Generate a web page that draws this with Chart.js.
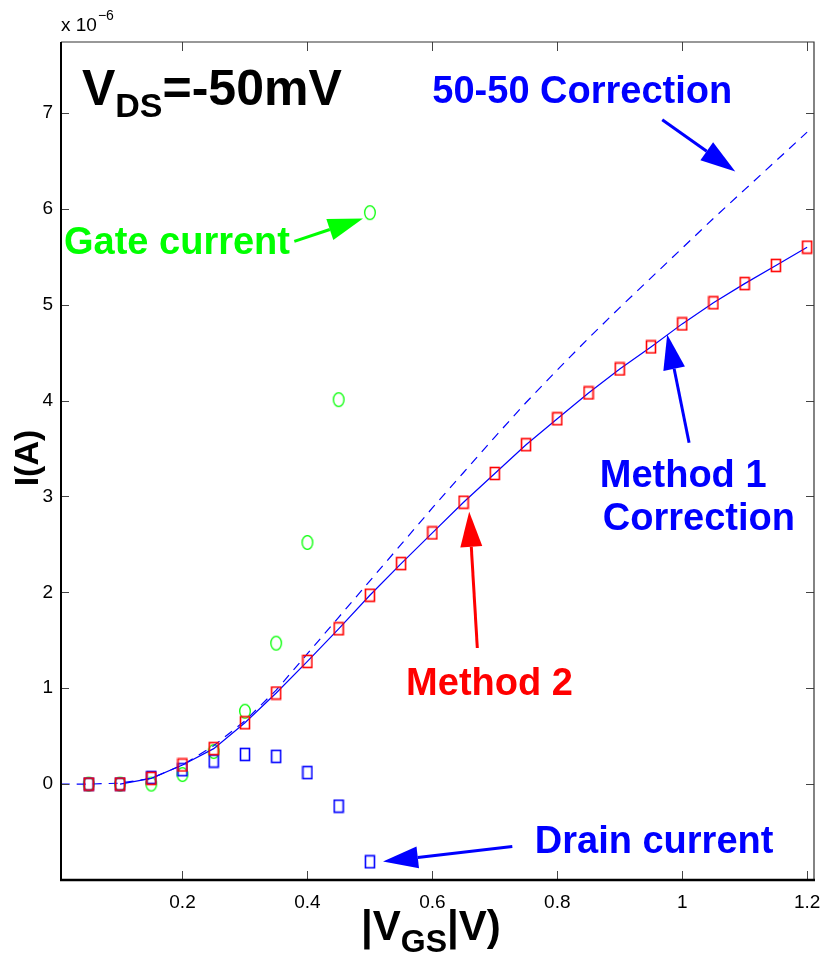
<!DOCTYPE html>
<html>
<head>
<meta charset="utf-8">
<script src="https://cdn.jsdelivr.net/npm/chart.js@4.4.1/dist/chart.umd.min.js"></script>
<style>
  html, body { margin: 0; padding: 0; background: #fff; }
</style>
</head>
<body>
<canvas id="chart" width="821" height="961"></canvas>
<script>
// |VGS| sweep (V)
const vgs = [0.05, 0.1, 0.15, 0.2, 0.25, 0.3, 0.35, 0.4, 0.45, 0.5, 0.55, 0.6,
             0.65, 0.7, 0.75, 0.8, 0.85, 0.9, 0.95, 1.0, 1.05, 1.1, 1.15, 1.2];
// currents in units of 1e-6 A
const method2 = [0, 0, 0.06, 0.2, 0.37, 0.64, 0.95, 1.28, 1.62, 1.97, 2.3, 2.62,
                 2.94, 3.24, 3.54, 3.81, 4.08, 4.33, 4.56, 4.8, 5.02, 5.22, 5.41, 5.6];
const method1X = [0.1, 0.15, 0.2, 0.25, 0.3, 0.35, 0.4, 0.45, 0.5, 0.55, 0.6, 0.65,
                  0.7, 0.75, 0.8, 0.85, 0.9, 0.95, 1.0, 1.05, 1.1, 1.15, 1.2];
const method1 = [0, 0.06, 0.2, 0.37, 0.64, 0.95, 1.28, 1.62, 1.97, 2.3, 2.62, 2.94,
                 3.24, 3.54, 3.81, 4.08, 4.33, 4.56, 4.8, 5.02, 5.22, 5.41, 5.6];
const corrX = [0.005, 0.05, 0.1, 0.15, 0.2, 0.25, 0.3, 0.35, 0.4, 0.45, 0.5, 0.55, 0.6,
               0.65, 0.7, 0.75, 0.8, 0.85, 0.9, 0.95, 1.0, 1.05, 1.1, 1.15, 1.2];
const corr5050 = [0, 0, 0.01, 0.06, 0.2, 0.4, 0.66, 0.98, 1.36, 1.74, 2.12, 2.5, 2.88,
                  3.25, 3.62, 3.98, 4.32, 4.65, 4.97, 5.28, 5.59, 5.9, 6.2, 6.5, 6.8];
const sparseX = [0.05, 0.1, 0.15, 0.2, 0.25, 0.3, 0.35, 0.4, 0.45, 0.5];
const gateCurrent = [0, 0, 0, 0.1, 0.34, 0.76, 1.47, 2.52, 4.01, 5.96];
const drainCurrent = [0, 0, 0.07, 0.15, 0.24, 0.31, 0.29, 0.12, -0.23, -0.81];

const xTicks = [0.2, 0.4, 0.6, 0.8, 1, 1.2];
const yTicks = [0, 1, 2, 3, 4, 5, 6, 7];

const pts = (xs, ys) => xs.map((x, i) => ({ x: x, y: ys[i] }));

// MATLAB markers look a bit taller than wide in this picture
function boxMarker(color) {
    const c = document.createElement('canvas');
    c.width = 12; c.height = 15;
    const g = c.getContext('2d');
    g.strokeStyle = color; g.lineWidth = 1.6;
    g.strokeRect(1.5, 1.5, 9, 12);
    return c;
}
function ringMarker(color) {
    const c = document.createElement('canvas');
    c.width = 14; c.height = 17;
    const g = c.getContext('2d');
    g.strokeStyle = color; g.lineWidth = 1.3;
    g.beginPath();
    g.ellipse(7, 8.5, 5.3, 6.8, 0, 0, Math.PI * 2);
    g.stroke();
    return c;
}

const BLUE = '#0000ff', RED = '#ff0000', GREEN = '#00ff00';
const NARROW = "'Liberation Sans Narrow', 'Arial Narrow', 'Liberation Sans', Arial, sans-serif";
const BOLD = "bold 38px 'Liberation Sans', Arial, sans-serif";

const notes = [
    { text: '50-50 Correction', color: BLUE, x: 0.6, y: 7.1 },
    { text: 'Gate current', color: GREEN, x: 0.0103, y: 5.53 },
    { text: 'Method 1', color: BLUE, x: 0.868, y: 3.1 },
    { text: 'Correction', color: BLUE, x: 0.873, y: 2.65 },
    { text: 'Method 2', color: RED, x: 0.558, y: 0.93 },
    { text: 'Drain current', color: BLUE, x: 0.764, y: -0.72 }
];
const arrows = [
    { from: [0.968, 6.93], to: [1.085, 6.39], color: BLUE },
    { from: [0.379, 5.66], to: [0.489, 5.9], color: GREEN },
    { from: [1.011, 3.56], to: [0.976, 4.69], color: BLUE },
    { from: [0.672, 1.42], to: [0.659, 2.84], color: RED },
    { from: [0.728, -0.65], to: [0.521, -0.807], color: BLUE }
];

function drawArrow(ctx, x0, y0, x1, y1, color) {
    const a = Math.atan2(y1 - y0, x1 - x0);
    const len = 35, half = 11;
    const bx = x1 - len * Math.cos(a), by = y1 - len * Math.sin(a);
    ctx.strokeStyle = color; ctx.fillStyle = color; ctx.lineWidth = 3;
    ctx.beginPath(); ctx.moveTo(x0, y0); ctx.lineTo(bx, by); ctx.stroke();
    ctx.beginPath();
    ctx.moveTo(x1, y1);
    ctx.lineTo(bx + half * Math.sin(a), by - half * Math.cos(a));
    ctx.lineTo(bx - half * Math.sin(a), by + half * Math.cos(a));
    ctx.closePath(); ctx.fill();
}

const framePlugin = {
    id: 'frame',
    afterDraw(chart) {
        const { ctx, chartArea: ca, scales: { x, y } } = chart;
        ctx.save();
        // inward ticks on all four sides
        ctx.strokeStyle = '#444'; ctx.lineWidth = 1;
        x.ticks.forEach(t => {
            const px = Math.round(x.getPixelForValue(t.value)) + 0.5;
            ctx.beginPath();
            ctx.moveTo(px, ca.bottom); ctx.lineTo(px, ca.bottom - 9);
            ctx.moveTo(px, ca.top); ctx.lineTo(px, ca.top + 9);
            ctx.stroke();
        });
        y.ticks.forEach(t => {
            const py = Math.round(y.getPixelForValue(t.value)) + 0.5;
            ctx.beginPath();
            ctx.moveTo(ca.left, py); ctx.lineTo(ca.left + 8, py);
            ctx.moveTo(ca.right, py); ctx.lineTo(ca.right - 8, py);
            ctx.stroke();
        });
        // box
        ctx.strokeStyle = '#333'; ctx.lineWidth = 1.2;
        ctx.beginPath();
        ctx.moveTo(ca.left, ca.top); ctx.lineTo(ca.right, ca.top); ctx.lineTo(ca.right, ca.bottom);
        ctx.stroke();
        ctx.strokeStyle = '#000'; ctx.lineWidth = 2;
        ctx.beginPath(); ctx.moveTo(ca.left, ca.top); ctx.lineTo(ca.left, ca.bottom + 1); ctx.stroke();
        ctx.lineWidth = 2.6;
        ctx.beginPath(); ctx.moveTo(ca.left - 1, ca.bottom); ctx.lineTo(ca.right + 1, ca.bottom); ctx.stroke();

        // annotations
        ctx.textBaseline = 'alphabetic'; ctx.textAlign = 'left';
        ctx.font = BOLD;
        notes.forEach(n => {
            ctx.fillStyle = n.color;
            ctx.fillText(n.text, x.getPixelForValue(n.x), y.getPixelForValue(n.y));
        });
        arrows.forEach(a => drawArrow(ctx,
            x.getPixelForValue(a.from[0]), y.getPixelForValue(a.from[1]),
            x.getPixelForValue(a.to[0]), y.getPixelForValue(a.to[1]), a.color));

        // V_DS label
        ctx.fillStyle = '#000';
        let px = x.getPixelForValue(0.039), py = y.getPixelForValue(7.087);
        ctx.font = "bold 50px 'Liberation Sans', Arial, sans-serif";
        ctx.fillText('V', px, py); px += ctx.measureText('V').width;
        ctx.font = "bold 34px 'Liberation Sans', Arial, sans-serif";
        ctx.fillText('DS', px, py + 12); px += ctx.measureText('DS').width;
        ctx.font = "bold 50px 'Liberation Sans', Arial, sans-serif";
        ctx.fillText('=-50mV', px, py);

        // axis titles
        px = 361; py = 940;
        ctx.font = "bold 42px 'Liberation Sans', Arial, sans-serif";
        ctx.fillText('|V', px, py); px += ctx.measureText('|V').width;
        ctx.font = "bold 32px 'Liberation Sans', Arial, sans-serif";
        ctx.fillText('GS', px, py + 12); px += ctx.measureText('GS').width;
        ctx.font = "bold 42px 'Liberation Sans', Arial, sans-serif";
        ctx.fillText('|V)', px, py);

        ctx.save();
        ctx.translate(29, 458); ctx.rotate(-Math.PI / 2);
        ctx.textAlign = 'center'; ctx.textBaseline = 'middle';
        ctx.font = "bold 34px " + NARROW;
        ctx.fillText('I(A)', 0, 0);
        ctx.restore();

        // exponent
        ctx.font = "19px " + NARROW;
        ctx.fillText('x 10', ca.left, 31);
        const w = ctx.measureText('x 10').width;
        ctx.font = "14px " + NARROW;
        ctx.fillText('\u22126', ca.left + w + 1, 20);
        ctx.restore();
    }
};

new Chart(document.getElementById('chart'), {
    type: 'scatter',
    data: {
        datasets: [
            { label: 'Method 2', data: pts(vgs, method2), showLine: false,
              pointStyle: boxMarker(RED), pointRadius: 6 },
            { label: 'Method 1 Correction', data: pts(method1X, method1), showLine: true,
              borderColor: BLUE, borderWidth: 1.2, pointRadius: 0 },
            { label: '50-50 Correction', data: pts(corrX, corr5050), showLine: true,
              borderColor: BLUE, borderWidth: 1.2, borderDash: [9, 7], pointRadius: 0 },
            { label: 'Drain current', data: pts(sparseX, drainCurrent), showLine: false,
              pointStyle: boxMarker(BLUE), pointRadius: 6 },
            { label: 'Gate current', data: pts(sparseX, gateCurrent), showLine: false,
              pointStyle: ringMarker(GREEN), pointRadius: 6 }
        ]
    },
    options: {
        responsive: false,
        animation: false,
        events: [],
        layout: { padding: { top: 42, right: 5.5, left: 0, bottom: 0 } },
        plugins: { legend: { display: false }, tooltip: { enabled: false } },
        scales: {
            x: {
                type: 'linear', min: 0.0055, max: 1.211,
                afterBuildTicks: s => { s.ticks = xTicks.map(v => ({ value: v })); },
                afterFit: s => { s.height = 81; s.paddingLeft = 0; s.paddingRight = 0; },
                grid: { display: false, drawTicks: false },
                border: { display: false },
                ticks: { color: '#000', padding: 11, maxRotation: 0,
                         font: { size: 19, family: NARROW },
                         callback: v => String(v) }
            },
            y: {
                type: 'linear', min: -1, max: 7.74,
                afterBuildTicks: s => { s.ticks = yTicks.map(v => ({ value: v })); },
                afterFit: s => { s.width = 61; s.paddingTop = 0; s.paddingBottom = 0; },
                grid: { display: false, drawTicks: false },
                border: { display: false },
                ticks: { color: '#000', padding: 8,
                         font: { size: 19, family: NARROW },
                         callback: v => String(v) }
            }
        }
    },
    plugins: [framePlugin]
});
</script>
</body>
</html>
